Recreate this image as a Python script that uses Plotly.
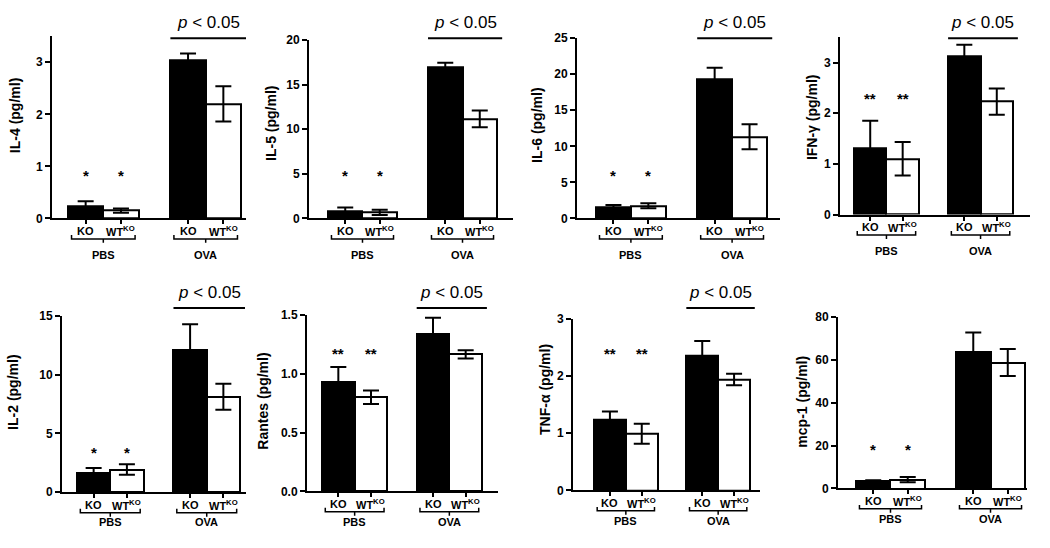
import plotly.graph_objects as go

# ---------------- data ----------------
cytokines = ["IL-4", "IL-5", "IL-6", "IFN-γ", "IL-2", "Rantes", "TNF-α", "mcp-1"]
groups = ["PBS", "OVA"]
genotypes = ["KO", "WT<sup>KO</sup>"]

ko_pbs_mean = [0.24, 0.77, 1.50, 1.30, 1.69, 0.934, 1.24, 3.3]
ko_pbs_sem = [0.09, 0.47, 0.38, 0.55, 0.38, 0.124, 0.14, 0.5]
wt_pbs_mean = [0.15, 0.69, 1.76, 1.10, 1.93, 0.800, 0.99, 4.1]
wt_pbs_sem = [0.04, 0.30, 0.36, 0.33, 0.45, 0.058, 0.175, 1.2]
ko_ova_mean = [3.04, 16.93, 19.36, 3.13, 12.15, 1.337, 2.36, 63.6]
ko_ova_sem = [0.13, 0.52, 1.55, 0.22, 2.13, 0.140, 0.25, 9.1]
wt_ova_mean = [2.20, 11.17, 11.33, 2.23, 8.12, 1.165, 1.94, 58.7]
wt_ova_sem = [0.34, 0.95, 1.75, 0.26, 1.10, 0.035, 0.10, 6.3]

pbs_marks = ["*", "*", "*", "**", "*", "**", "**", "*"]
ova_pvalue = [True, True, True, True, True, True, True, False]

y_max = [3.5, 20, 25, 3.5, 15, 1.5, 3, 80]
y_dtick = [1, 5, 5, 1, 5, 0.5, 1, 20]
y_format = ["d", "d", "d", "d", "d", ".1f", "d", "d"]

# ---------------- layout (pixels) ----------------
W, H = 1050, 548
# axis left, axis right, first bar left, last bar right, axis top, axis zero
panels_px = [
    (52, 246, 68, 241, 30, 217),
    (309, 513, 328, 497, 34, 217),
    (577, 780, 596, 767, 32, 217),
    (840, 1030, 854, 1013, 31, 213),
    (62, 246, 77, 240, 317, 498),
    (307, 498, 322, 482, 316, 497),
    (573, 760, 594, 750, 320, 496),
    (838, 1027, 856, 1025, 318, 494),
]
title_px = [(15, 112), (271, 120), (537, 122), (812, 113),
            (13, 396), (263, 405), (545, 393), (802, 405)]
star_px = [168, 168, 168, 89, 452, 351, 351, 449]

GAP = 0.9  # gap between groups in bar widths
def bar_pos(g, i):
    return g * (2 + GAP) + i

FONT = "Liberation Sans, Arial, sans-serif"

def px_x(p):
    return p / W

def px_y(p):
    return 1 - p / H

fig = go.Figure()
annotations = []
shapes = []

for k, name in enumerate(cytokines):
    axL, axR, a, b, top, zero = panels_px[k]
    n = "" if k == 0 else str(k + 1)
    xa, ya = "x" + n, "y" + n
    s = (b - a) / (bar_pos(1, 1) + 1.0)  # px per unit
    x_lo = -0.5 - (a - axL) / s
    x_hi = bar_pos(1, 1) + 0.5 + (axR - b) / s

    xs = [bar_pos(0, 0), bar_pos(0, 1), bar_pos(1, 0), bar_pos(1, 1)]
    ys = [ko_pbs_mean[k], wt_pbs_mean[k], ko_ova_mean[k], wt_ova_mean[k]]
    es = [ko_pbs_sem[k], wt_pbs_sem[k], ko_ova_sem[k], wt_ova_sem[k]]
    fig.add_trace(go.Bar(
        x=xs, y=ys, width=1.0,
        marker=dict(color=["black", "white", "black", "white"],
                    line=dict(color="black", width=2)),
        error_y=dict(type="data", array=es, color="black", thickness=2, width=8),
        xaxis=xa, yaxis=ya, showlegend=False, hoverinfo="skip",
    ))

    fig.layout["xaxis" + n] = dict(
        domain=[px_x(axL), px_x(axR)], range=[x_lo, x_hi], anchor=ya,
        showline=True, linecolor="black", linewidth=2, showgrid=False, zeroline=False,
        ticks="outside", ticklen=4, tickwidth=1.5, tickcolor="black",
        tickvals=xs, showticklabels=False,
        fixedrange=True,
    )
    fig.layout["yaxis" + n] = dict(
        domain=[px_y(zero), px_y(top)], range=[0, y_max[k]], anchor=xa,
        showline=True, linecolor="black", linewidth=2, showgrid=False, zeroline=False,
        ticks="outside", ticklen=5, tickwidth=2, tickcolor="black",
        dtick=y_dtick[k], tick0=0, tickformat=y_format[k],
        tickfont=dict(family=FONT, size=12, color="black", weight="bold"),
        fixedrange=True,
    )

    # y title
    tx, ty = title_px[k]
    annotations.append(dict(
        x=px_x(tx), y=px_y(ty), xref="paper", yref="paper",
        text=f"<b>{name} (pg/ml)</b>", textangle=-90, showarrow=False,
        font=dict(family=FONT, size=14, color="black"),
        xanchor="center", yanchor="middle",
    ))

    # genotype labels under bars
    for x, lab in zip(xs, genotypes * 2):
        annotations.append(dict(
            x=x, y=px_y(zero + 13), xref=xa, yref="paper",
            text=f"<b>{lab}</b>", showarrow=False,
            font=dict(family=FONT, size=11, color="black"),
            xanchor="center", yanchor="middle",
        ))

    # significance marks above PBS bars
    for i in range(2):
        annotations.append(dict(
            x=bar_pos(0, i), y=px_y(star_px[k] + 5), xref=xa, yref="paper",
            text=f"<b>{pbs_marks[k]}</b>", showarrow=False,
            font=dict(family=FONT, size=15, color="black"),
            xanchor="center", yanchor="middle",
        ))

    # group brackets and labels
    yb = px_y(zero + 21)
    yup = px_y(zero + 17)
    ydn = px_y(zero + 25)
    for g, gname in enumerate(groups):
        c = bar_pos(g, 0.5)
        x0, x1 = c - 0.9, c + 0.9
        shapes.append(dict(
            type="path", xref=xa, yref="paper",
            path=f"M {x0},{yup} L {x0},{yb} L {x1},{yb} L {x1},{yup} M {c},{yb} L {c},{ydn}",
            line=dict(color="black", width=1.5),
        ))
        annotations.append(dict(
            x=c, y=px_y(zero + (37 if zero < 300 else 31)), xref=xa, yref="paper",
            text=f"<b>{gname}</b>", showarrow=False,
            font=dict(family=FONT, size=11, color="black"),
            xanchor="center", yanchor="middle",
        ))

    # p-value line
    if ova_pvalue[k]:
        ly = 32 if zero < 300 else 309
        shapes.append(dict(
            type="line", xref=xa, yref="paper",
            x0=2.4, x1=4.55, y0=px_y(ly), y1=px_y(ly),
            line=dict(color="black", width=2),
        ))
        annotations.append(dict(
            x=(2.4 + 4.55) / 2, y=px_y(ly - 16), xref=xa, yref="paper",
            text="<i>p</i> &lt; 0.05", showarrow=False,
            font=dict(family=FONT, size=17, color="black"),
            xanchor="center", yanchor="middle",
        ))

fig.update_layout(
    width=W, height=H,
    margin=dict(l=0, r=0, t=0, b=0),
    paper_bgcolor="white", plot_bgcolor="white",
    annotations=annotations, shapes=shapes,
    bargap=0, showlegend=False,
)

fig.write_html("out.html", config={"displayModeBar": False},
               post_script="document.body.style.margin='0';document.documentElement.style.overflow='hidden';")
